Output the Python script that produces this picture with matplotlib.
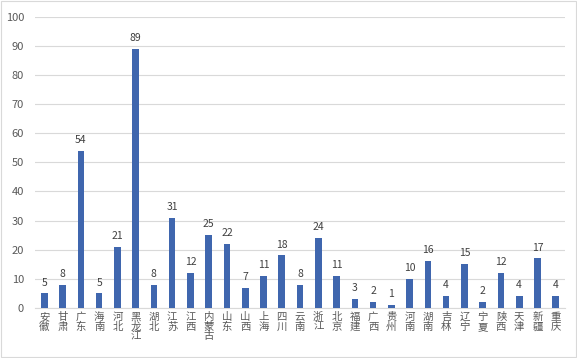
import matplotlib.pyplot as plt
import matplotlib.patches as mpatches
import numpy as np

plt.rcParams["font.family"] = ["Noto Sans CJK SC", "DejaVu Sans"]

provinces = ["安徽", "甘肃", "广东", "海南", "河北", "黑龙江", "湖北", "江苏", "江西", "内蒙古",
             "山东", "山西", "上海", "四川", "云南", "浙江", "北京", "福建", "广西", "贵州",
             "河南", "湖南", "吉林", "辽宁", "宁夏", "陕西", "天津", "新疆", "重庆"]
counts = [5, 8, 54, 5, 21, 89, 8, 31, 12, 25,
          22, 7, 11, 18, 8, 24, 11, 3, 2, 1,
          10, 16, 4, 15, 2, 12, 4, 17, 4]
yticks = list(range(0, 101, 10))

BAR = "#3F66AE"
GRID = "#D9D9D9"
TXT = "#595959"

fig = plt.figure(figsize=(5.77, 3.58), dpi=100)
ax = fig.add_axes([0.061, 0.140, 0.918, 0.813])

x = np.arange(len(provinces))
ax.bar(x, counts, width=0.36, color=BAR, zorder=3)
for xi, v in zip(x, counts):
    ax.text(xi, v + 2, str(v), ha="center", va="bottom", fontsize=7.5, color="#404040")

ax.set_ylim(0, 100)
ax.set_yticks(yticks)
ax.set_xlim(-0.5, len(provinces) - 0.5)
ax.set_xticks(x)
ax.set_xticklabels(["\n".join(p) for p in provinces], fontsize=7.5, color=TXT,
                   linespacing=0.95, va="top")
ax.tick_params(axis="y", length=0, colors=TXT, labelsize=8, pad=8)
ax.tick_params(axis="x", length=0, colors=TXT, pad=3)
ax.grid(axis="y", color=GRID, linewidth=0.8, zorder=0)
for s in ["top", "right", "left"]:
    ax.spines[s].set_visible(False)
ax.spines["bottom"].set_color(GRID)

# light border around the chart
fig.patches.append(mpatches.Rectangle((0.002, 0.003), 0.996, 0.994, transform=fig.transFigure,
                                      fill=False, edgecolor="#D9D9D9", linewidth=0.8))

plt.savefig("out.png", dpi=100)
